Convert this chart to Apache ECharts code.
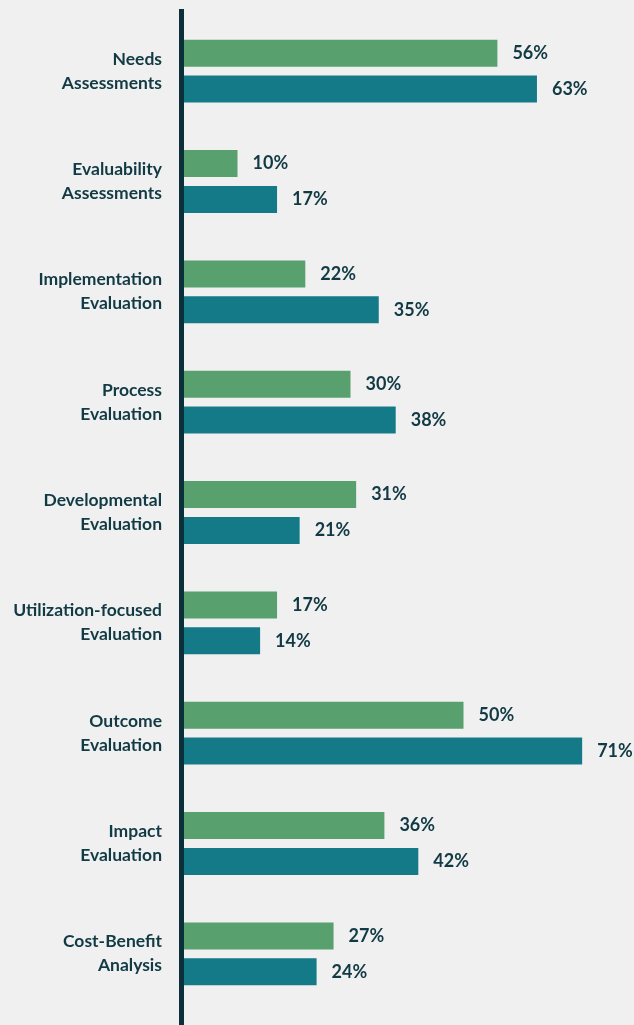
<!DOCTYPE html>
<html>
<head>
<meta charset="utf-8">
<script src="https://cdn.jsdelivr.net/npm/echarts@6/dist/echarts.min.js"></script>
<style>
html,body{margin:0;padding:0;background:#f0f0f0;}
#chart{width:634px;height:1025px;}
</style>
</head>
<body>
<div id="chart"></div>
<script>
var categories = [
  "Needs\nAssessments",
  "Evaluability\nAssessments",
  "Implementation\nEvaluation",
  "Process\nEvaluation",
  "Developmental\nEvaluation",
  "Utilization-focused\nEvaluation",
  "Outcome\nEvaluation",
  "Impact\nEvaluation",
  "Cost-Benefit\nAnalysis"
];
var greenValues = [56, 10, 22, 30, 31, 17, 50, 36, 27];
var tealValues  = [63, 17, 35, 38, 21, 14, 71, 42, 24];

var textColor = '#113a44';
var font = 'Lato';

var chart = echarts.init(document.getElementById('chart'), null, {renderer: 'canvas'});
var labelCfg = {
  show: true,
  position: 'right',
  distance: 15,
  formatter: '{c}%',
  color: textColor,
  fontFamily: font,
  fontWeight: 'bold',
  fontSize: 18
};
chart.setOption({
  backgroundColor: '#f0f0f0',
  animation: false,
  grid: {left: 181, right: 1, top: 16, bottom: 16, containLabel: false},
  xAxis: {
    type: 'value', min: 0, max: 80, show: false
  },
  yAxis: {
    type: 'category',
    inverse: true,
    data: categories,
    axisLine: {show: false},
    axisTick: {show: false},
    splitLine: {show: false},
    axisLabel: {
      margin: 19,
      color: textColor,
      fontFamily: font,
      fontWeight: 'bold',
      fontSize: 17.5,
      lineHeight: 24,
      align: 'right'
    }
  },
  series: [
    {
      name: 'Green', type: 'bar', data: greenValues,
      barWidth: 27, barGap: '33%',
      itemStyle: {color: '#58a06e'},
      label: labelCfg
    },
    {
      name: 'Teal', type: 'bar', data: tealValues,
      barWidth: 27, barGap: '33%',
      itemStyle: {color: '#147a87'},
      label: labelCfg
    }
  ],
  graphic: [{
    type: 'line',
    z: 100,
    shape: {x1: 181.5, y1: 9, x2: 181.5, y2: 1025},
    style: {stroke: '#0b3039', lineWidth: 5}
  }]
});
</script>
</body>
</html>
